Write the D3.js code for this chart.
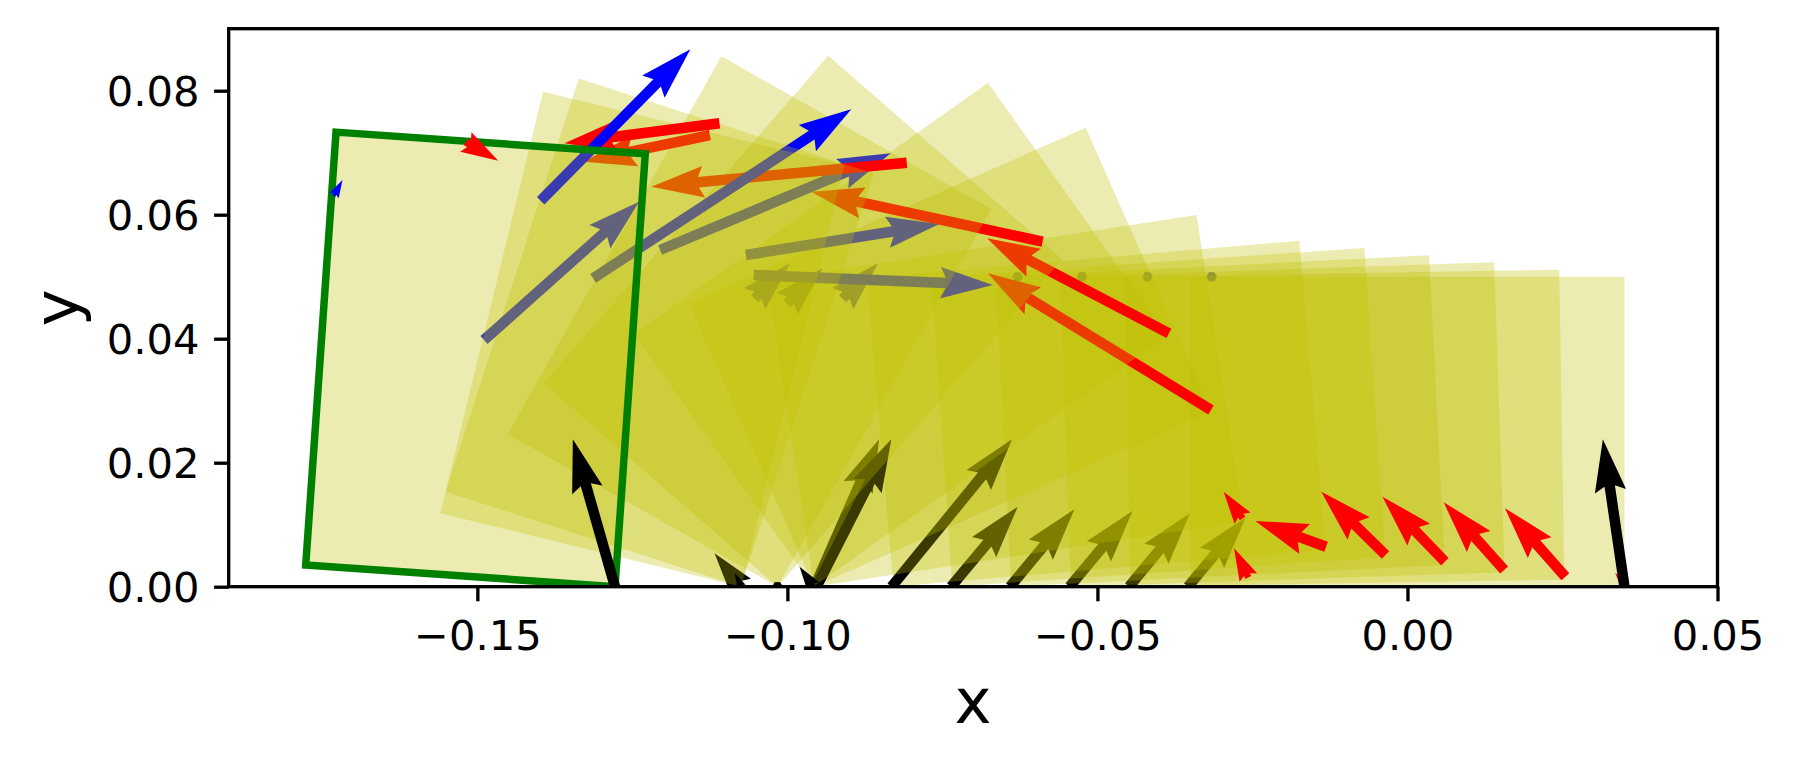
<!DOCTYPE html>
<html><head><meta charset="utf-8">
<script src="https://cdn.jsdelivr.net/npm/d3@7"></script>
<style>body{margin:0;background:#fff} text{font-family:"DejaVu Sans",sans-serif;fill:#000}</style>
</head><body><svg id="c" width="1793" height="765"></svg>
<script>
// ---- data ----
// each frame: box pivot x (corner on the ground) and its tilt angle (deg)
const framePivot = [-0.0350, -0.0447, -0.0543, -0.0639, -0.0734, -0.0829, -0.0957, -0.0957, -0.0958, -0.1016, -0.1016, -0.1075, -0.1074, -0.1278];
const frameAngle = [90.0, 89.07, 88.08, 87.12, 86.11, 85.09, 81.36, 66.16, 54.64, 41.01, 29.51, 17.84, 13.70, 4.0];
const boxW = 0.05, boxH = 0.07;
const highlightFrame = 13;
// arrows: [frame, tailX, tailY, tipX, tipY]
const redArrows = [
  [0, 0.0350, 0.0003, 0.0335, 0.0022],
  [1, 0.02546, 0.00161, 0.01572, 0.01265],
  [2, 0.01559, 0.00269, 0.00584, 0.01361],
  [3, 0.00603, 0.00403, -0.00404, 0.01452],
  [4, -0.00354, 0.00511, -0.0139, 0.01532],
  [5, -0.01312, 0.00645, -0.02454, 0.0106],
  [6, -0.02658, 0.01103, -0.02965, 0.01532],
  [6, -0.02566, 0.00148, -0.02797, 0.00619],
  [7, -0.03168, 0.0285, -0.06766, 0.05055],
  [8, -0.03847, 0.04087, -0.06779, 0.05619],
  [9, -0.05884, 0.05565, -0.09618, 0.06371],
  [10, -0.08075, 0.06839, -0.12194, 0.06452],
  [11, -0.1125, 0.07285, -0.13286, 0.06855],
  [12, -0.11095, 0.07474, -0.13595, 0.07152],
  [13, -0.15186, 0.07173, -0.14663, 0.06871]
];
const blackArrows = [
  [0, 0.0350, 0.0, 0.03151, 0.02377],
  [0, -0.0354, 0.0, -0.0261, 0.01116],
  [1, -0.0449, 0.0, -0.03508, 0.01184],
  [2, -0.0545, 0.0, -0.04434, 0.01221],
  [3, -0.0641, 0.0, -0.05371, 0.01248],
  [4, -0.0736, 0.0, -0.06286, 0.0129],
  [5, -0.0832, 0.0, -0.06378, 0.02377],
  [6, -0.0956, 0.0, -0.0852, 0.02377],
  [7, -0.0953, 0.0, -0.08323, 0.02377],
  [8, -0.0958, 0.0, -0.09804, 0.00323],
  [9, -0.1016, 0.0, -0.1016, 0.0],
  [10, -0.1016, 0.0, -0.1016, 0.0],
  [11, -0.1075, 0.0, -0.11175, 0.00539],
  [12, -0.1074, 0.0, -0.1085, 0.0022],
  [13, -0.1278, 0.0, -0.1346, 0.02377]
];
const blueArrows = [
  [0, -0.03158, 0.05, -0.03158, 0.05],
  [1, -0.04194, 0.05, -0.04194, 0.05],
  [2, -0.05249, 0.05, -0.05249, 0.05],
  [3, -0.06286, 0.05, -0.06286, 0.05],
  [4, -0.09109, 0.04645, -0.08538, 0.05216],
  [5, -0.10004, 0.04565, -0.09433, 0.05135],
  [6, -0.10529, 0.04645, -0.09958, 0.05216],
  [7, -0.10544, 0.05027, -0.06687, 0.04866],
  [8, -0.10668, 0.0535, -0.0755, 0.0585],
  [9, -0.12052, 0.05431, -0.08334, 0.0699],
  [10, -0.13133, 0.04974, -0.0897, 0.077],
  [11, -0.14892, 0.03979, -0.12392, 0.0621],
  [12, -0.13978, 0.06226, -0.11565, 0.08668],
  [13, -0.17313, 0.06305, -0.17175, 0.0656]
];
const xTicks = [-0.15, -0.10, -0.05, 0.00, 0.05];
const xTickLabels = ["\u22120.15", "\u22120.10", "\u22120.05", "0.00", "0.05"];
const yTicks = [0.00, 0.02, 0.04, 0.06, 0.08];
const yTickLabels = ["0.00", "0.02", "0.04", "0.06", "0.08"];
const xDomain = [-0.1901, 0.05], yDomain = [0, 0.09];

// ---- layout ----
const L = 228.7, R = 1717.5, T = 28.7, B = 586.7;
const x = d3.scaleLinear().domain(xDomain).range([L, R]);
const y = d3.scaleLinear().domain(yDomain).range([B, T]);
const svg = d3.select("#c");
svg.append("defs").append("clipPath").attr("id", "clip")
  .append("rect").attr("x", L).attr("y", T).attr("width", R - L).attr("height", B - T);
const g = svg.append("g").attr("clip-path", "url(#clip)");

const shaftW = 10.5;
function arrowPts(d) {
  const x0 = x(d[1]), y0 = y(d[2]), x1 = x(d[3]), y1 = y(d[4]);
  const dx = x1 - x0, dy = y1 - y0;
  const len = Math.hypot(dx, dy) / shaftW;
  const hl = 5, hal = 4.5, hw = 3, minsh = 5, minlength = 1;
  let X, Y;
  if (len < minlength) {
    X = []; Y = [];
    for (let i = 0; i < 6; i++) { const th = i * Math.PI / 3; X.push(Math.cos(th) * minlength * 0.5); Y.push(Math.sin(th) * minlength * 0.5); }
  } else if (len < minsh) {
    const s = len / minsh;
    X = [0, minsh - hal, minsh - hl, minsh, minsh - hl, minsh - hal, 0].map(v => v * s);
    Y = [0.5, 0.5, hw / 2, 0, -hw / 2, -0.5, -0.5].map(v => v * s);
  } else {
    X = [0, len - hal, len - hl, len, len - hl, len - hal, 0];
    Y = [0.5, 0.5, hw / 2, 0, -hw / 2, -0.5, -0.5];
  }
  const a = len < minlength ? 0 : Math.atan2(dy, dx), c = Math.cos(a), s = Math.sin(a);
  return X.map((v, i) => [x0 + shaftW * (v * c - Y[i] * s), y0 + shaftW * (v * s + Y[i] * c)]);
}
function boxCorners(px, deg) {
  const t = deg * Math.PI / 180, c = Math.cos(t), s = Math.sin(t);
  return [[px, 0], [px - boxW * c, boxW * s], [px - boxW * c + boxH * s, boxW * s + boxH * c], [px + boxH * s, boxH * c]];
}
const groups = [[redArrows, "#ff0000"], [blackArrows, "#000000"], [blueArrows, "#0000ff"]];
framePivot.forEach((px, f) => {
  const pts = boxCorners(px, frameAngle[f]).map(p => [x(p[0]), y(p[1])]);
  g.append("polygon").attr("points", pts.map(p => p.join(",")).join(" "))
    .attr("fill", "#bfbf00").attr("fill-opacity", 0.3)
    .attr("stroke", f === highlightFrame ? "#008000" : "none")
    .attr("stroke-width", 7.5).attr("stroke-linejoin", "miter");
  groups.forEach(([arr, col]) => {
    arr.filter(d => d[0] === f).forEach(d => {
      g.append("polygon").attr("points", arrowPts(d).map(p => p.join(",")).join(" ")).attr("fill", col);
    });
  });
});

// ---- axes ----
const fs = 41.67;
const xa = svg.append("g").attr("transform", `translate(0,${B})`)
  .call(d3.axisBottom(x).tickValues(xTicks).tickFormat((d, i) => xTickLabels[i]).tickSizeOuter(0).tickSizeInner(14.6).tickPadding(14.6));
xa.select(".domain").remove();
xa.selectAll("line").attr("stroke", "#000").attr("stroke-width", 3.33);
xa.selectAll("text").attr("dy", null).attr("y", 63.8).style("font-size", fs + "px").attr("font-family", "DejaVu Sans");
const ya = svg.append("g").attr("transform", `translate(${L},0)`)
  .call(d3.axisLeft(y).tickValues(yTicks).tickFormat((d, i) => yTickLabels[i]).tickSizeOuter(0).tickSizeInner(14.6).tickPadding(14.6));
ya.select(".domain").remove();
ya.selectAll("line").attr("stroke", "#000").attr("stroke-width", 3.33);
ya.selectAll("text").attr("dy", null).attr("y", 14.8).style("font-size", fs + "px").attr("font-family", "DejaVu Sans");
svg.append("rect").attr("x", L).attr("y", T).attr("width", R - L).attr("height", B - T)
  .attr("fill", "none").attr("stroke", "#000").attr("stroke-width", 3.33);
svg.append("text").attr("x", (L + R) / 2).attr("y", 723.3).attr("text-anchor", "middle")
  .style("font-size", "62.5px").text("x");
svg.append("text").attr("transform", `translate(78,${(T + B) / 2}) rotate(-90)`).attr("text-anchor", "middle")
  .style("font-size", "62.5px").text("y");
</script></body></html>
